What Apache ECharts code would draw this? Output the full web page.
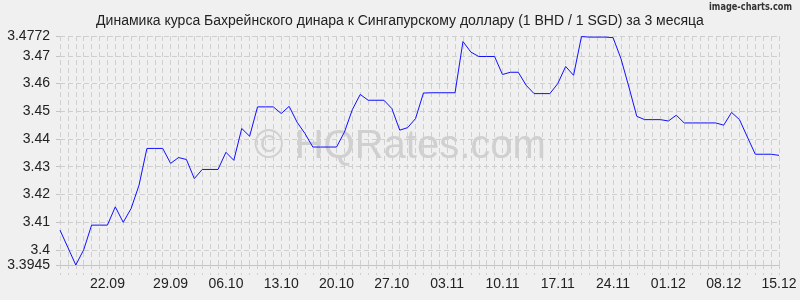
<!DOCTYPE html>
<html>
<head>
<meta charset="utf-8">
<script src="https://cdn.jsdelivr.net/npm/echarts@6/dist/echarts.min.js"></script>
<style>
html,body{margin:0;padding:0;background:#f0f0f0;}
#c{width:800px;height:300px;}
</style>
</head>
<body>
<div id="c"></div>
<script>
// Dates from 15.09 to 15.12 (daily)
const startDate = new Date(2000, 8, 15);
const categories = [];
for (let i = 0; i < 92; i++) {
  const d = new Date(startDate.getTime() + i * 86400000);
  categories.push(String(d.getDate()).padStart(2, '0') + '.' + String(d.getMonth() + 1).padStart(2, '0'));
}

const rates = [
  3.4071, 3.4008, 3.3945, 3.4000, 3.4089, 3.4089, 3.4089, 3.4155, 3.4099, 3.4149,
  3.4233, 3.4366, 3.4366, 3.4366, 3.4312, 3.4333, 3.4326, 3.4257, 3.4290, 3.4290,
  3.4290, 3.4352, 3.4323, 3.4438, 3.4410, 3.4516, 3.4516, 3.4516, 3.4492, 3.4518,
  3.4461, 3.4420, 3.4371, 3.4371, 3.4371, 3.4371, 3.4425, 3.4506, 3.4561, 3.4540,
  3.4540, 3.4540, 3.4510, 3.4432, 3.4441, 3.4474, 3.4566, 3.4567, 3.4567, 3.4567,
  3.4567, 3.4752, 3.4714, 3.4698, 3.4698, 3.4698, 3.4633, 3.4641, 3.4641, 3.4594,
  3.4564, 3.4564, 3.4564, 3.4600, 3.4662, 3.4630, 3.4770, 3.4768, 3.4768, 3.4768,
  3.4766, 3.4690, 3.4588, 3.4482, 3.4470, 3.4470, 3.4470, 3.4465, 3.4486, 3.4458,
  3.4458, 3.4458, 3.4458, 3.4458, 3.4450, 3.4496, 3.4470, 3.4407, 3.4345, 3.4345,
  3.4345, 3.4341
];

const yTicks = [3.3945, 3.4, 3.41, 3.42, 3.43, 3.44, 3.45, 3.46, 3.47, 3.4772];
const xTickIndex = [6, 14, 21, 28, 35, 42, 49, 56, 63, 70, 77, 84, 91];
const xTickLabels = ['22.09', '29.09', '06.10', '13.10', '20.10', '27.10', '03.11', '10.11', '17.11', '24.11', '01.12', '08.12', '15.12'];

const titleText = 'Динамика курса Бахрейнского динара к Сингапурскому доллару (1 BHD / 1 SGD) за 3 месяца';

const chart = echarts.init(document.getElementById('c'), null, {renderer: 'canvas'});
const gridColor = '#cfcfcf';
chart.setOption({
  backgroundColor: '#f0f0f0',
  animation: false,
  title: [{
    text: titleText,
    left: 'center',
    top: 9,
    textStyle: {fontFamily: 'Liberation Sans, Arial', fontSize: 14, fontWeight: 'normal', color: '#222'}
  }],
  graphic: [{
    type: 'text',
    left: 'center',
    top: 127,
    z: -10,
    silent: true,
    style: {text: '© HQRates.com', fontFamily: 'Liberation Sans, Arial', fontSize: 40, fill: '#d0d0d0'}
  }, {
    type: 'text',
    right: 8,
    top: 2,
    scaleX: 0.82,
    originX: 0,
    silent: true,
    style: {text: 'image-charts.com', fontFamily: 'DejaVu Sans, sans-serif', fontSize: 10, fontWeight: 'bold', fill: '#333'}
  }],
  grid: {left: 60, right: 21, top: 36, bottom: 35},
  xAxis: {
    type: 'category',
    data: categories,
    boundaryGap: false,
    axisLine: {show: true, lineStyle: {color: '#c4c4c4', width: 1}},
    axisTick: {show: true, interval: 0, length: 10, lineStyle: {color: gridColor, type: [4, 4]}},
    axisLabel: {
      interval: (idx) => xTickIndex.indexOf(idx) >= 0,
      formatter: (val, idx) => { const k = xTickIndex.indexOf(idx); return k >= 0 ? xTickLabels[k] : ''; },
      margin: 12,
      fontFamily: 'Liberation Sans, Arial',
      fontSize: 14,
      color: '#222',
      showMaxLabel: true
    },
    splitLine: {show: true, interval: 0, lineStyle: {color: gridColor, type: [5, 3], width: 1}}
  },
  yAxis: {
    type: 'value',
    min: yTicks[0],
    max: yTicks[yTicks.length - 1],
    axisLine: {show: false},
    axisTick: {show: true, length: 4, customValues: yTicks, lineStyle: {color: '#c4c4c4'}},
    axisLabel: {
      customValues: yTicks,
      formatter: (v) => String(v),
      margin: 10,
      fontFamily: 'Liberation Sans, Arial',
      fontSize: 14,
      color: '#222'
    },
    splitLine: {show: true, lineStyle: {color: gridColor, type: [5, 3], width: 1}}
  },
  series: [{
    type: 'line',
    data: rates,
    symbol: 'none',
    lineStyle: {color: '#1010ff', width: 1},
    z: 5
  }]
});
</script>
</body>
</html>
